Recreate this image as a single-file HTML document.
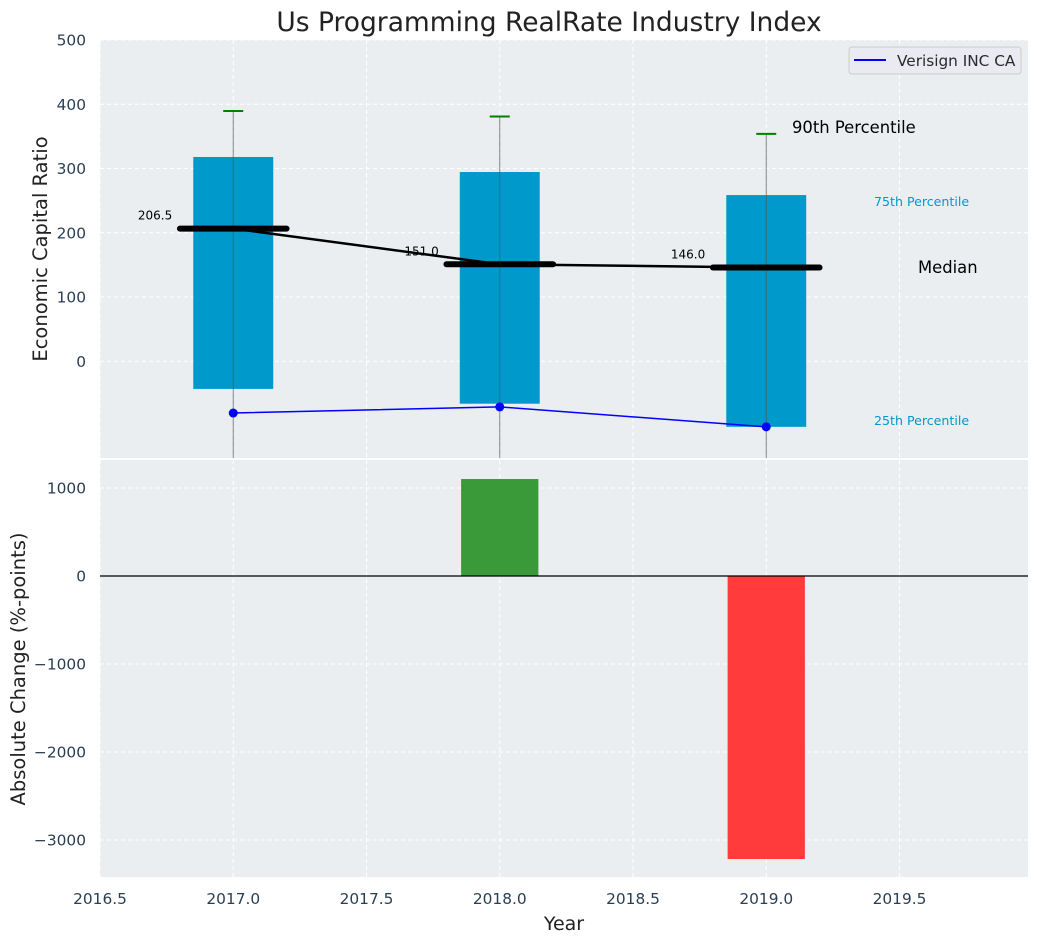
<!DOCTYPE html>
<html><head><meta charset="utf-8"><style>
body{margin:0;background:#fff;}
svg text{font-family:"DejaVu Sans","Liberation Sans",sans-serif;}
</style></head><body>
<svg id="c" width="1039" height="942" xmlns="http://www.w3.org/2000/svg"></svg>
<script>
const years=[2017,2018,2019];
const p25=[-43,-66,-102];
const p75=[318,294.6,258.7];
const p90=[389.5,381,354];
const medians=[206.5,151.0,146.0];
const company=[-80.5,-71,-102];
const changes=[0,1102,-3216];
const xTicks=[2016.5,2017.0,2017.5,2018.0,2018.5,2019.0,2019.5];
const topTicks=[0,100,200,300,400,500];
const botTicks=[1000,0,-1000,-2000,-3000];

const NS='http://www.w3.org/2000/svg';
const svg=document.getElementById('c');
function el(t,a,p){const e=document.createElementNS(NS,t);for(const k in a)e.setAttribute(k,a[k]);(p||svg).appendChild(e);return e;}
const L=100,R=1028;
const X=v=>L+(v-2016.5)*266.5;
const T0=40,T1=458,B0=460,B1=877;
const Yt=v=>361.3-v*0.6425;
const Yb=v=>576-v*0.088;

let e=el('rect',{x:L,y:T0,width:R-L,height:T1-T0,fill:'#eaeef0'});

e=el('rect',{x:L,y:B0,width:R-L,height:B1-B0,fill:'#eaeef0'});


xTicks.forEach(v=>{
 el('line',{x1:X(v),x2:X(v),y1:T0,y2:T1,stroke:'#fff','stroke-dasharray':'4,3','stroke-width':1});
 el('line',{x1:X(v),x2:X(v),y1:B0,y2:B1,stroke:'#fff','stroke-dasharray':'4,3','stroke-width':1});
 const t=el('text',{x:X(v),y:904,'text-anchor':'middle','font-size':15.4,fill:'#2a3f55'});t.textContent=v.toFixed(1);
 
});
topTicks.forEach(v=>{
 el('line',{x1:L,x2:R,y1:Yt(v),y2:Yt(v),stroke:'#fff','stroke-dasharray':'4,3'});
 const t=el('text',{x:86,y:Yt(v)+5.5,'text-anchor':'end','font-size':15.4,fill:'#2a3f55'});t.textContent=v;
 
});
botTicks.forEach(v=>{
 el('line',{x1:L,x2:R,y1:Yb(v),y2:Yb(v),stroke:'#fff','stroke-dasharray':'4,3'});
 const t=el('text',{x:86,y:Yb(v)+5.5,'text-anchor':'end','font-size':15.4,fill:'#2a3f55'});t.textContent=(v<0?'\u2212'+(-v):v);
 
});

const bw=0.15*266.5;
years.forEach((y,i)=>{
 const r=el('rect',{x:X(y)-bw,y:Yt(p75[i]),width:2*bw,height:Yt(p25[i])-Yt(p75[i]),fill:'#0099cc'});
 
 el('line',{x1:X(y),x2:X(y),y1:Yt(p90[i]),y2:T1,stroke:'#555','stroke-opacity':0.7,'stroke-width':1});
 const c=el('line',{x1:X(y)-10,x2:X(y)+10,y1:Yt(p90[i]),y2:Yt(p90[i]),stroke:'#008000','stroke-width':2});
 
});
let pts=years.map((y,i)=>X(y)+','+Yt(medians[i])).join(' ');
e=el('polyline',{points:pts,fill:'none',stroke:'#000','stroke-width':2.5});

years.forEach((y,i)=>{
 const m=el('line',{x1:X(y)-0.2*266.5,x2:X(y)+0.2*266.5,y1:Yt(medians[i]),y2:Yt(medians[i]),stroke:'#000','stroke-width':6,'stroke-linecap':'round'});
 
 const t=el('text',{x:X(y)-61,y:Yt(medians[i])-9,'text-anchor':'end','font-size':12,fill:'#000'});t.textContent=medians[i].toFixed(1);
 
});
pts=years.map((y,i)=>X(y)+','+Yt(company[i])).join(' ');
e=el('polyline',{points:pts,fill:'none',stroke:'#0000ff','stroke-width':1.5});

years.forEach((y,i)=>{
 const c=el('circle',{cx:X(y),cy:Yt(company[i]),r:4.5,fill:'#0000ff'});
 
});
[['90th Percentile',792,133,16.4,'#000'],['75th Percentile',874,206,12.6,'#0099cc'],['Median',918,273,16.4,'#000'],['25th Percentile',874,425,12.6,'#0099cc']].forEach(a=>{
 const t=el('text',{x:a[1],y:a[2],'font-size':a[3],fill:a[4]});t.textContent=a[0];
 
});
const g=el('g',{});
el('rect',{x:849,y:47,width:172,height:27,rx:3,fill:'#eaeaf2',stroke:'#ccc'},g);
el('line',{x1:854,x2:886,y1:60,y2:60,stroke:'#0000ff','stroke-width':2},g);
let t=el('text',{x:897,y:66,'font-size':15.3,fill:'#2a2a2a'},g);t.textContent='Verisign INC CA';

years.forEach((y,i)=>{
 const v=changes[i];if(v===0)return;
 const r=el('rect',{x:X(y)-0.145*266.5,y:Math.min(Yb(v),Yb(0)),width:0.29*266.5,height:Math.abs(Yb(v)-Yb(0)),fill:v>0?'#3a9a3a':'#ff3b3b'});
 
});
el('line',{x1:L,x2:R,y1:Yb(0),y2:Yb(0),stroke:'#000','stroke-width':1.2});

t=el('text',{x:549,y:31,'text-anchor':'middle','font-size':26.5,fill:'#222'});t.textContent='Us Programming RealRate Industry Index';

t=el('text',{x:564,y:930,'text-anchor':'middle','font-size':19,fill:'#222'});t.textContent='Year';

t=el('text',{x:0,y:0,'text-anchor':'middle','font-size':19.5,fill:'#222',transform:'translate(47,249) rotate(-90)'});t.textContent='Economic Capital Ratio';

t=el('text',{x:0,y:0,'text-anchor':'middle','font-size':19.5,fill:'#222',transform:'translate(25,669) rotate(-90)'});t.textContent='Absolute Change (%-points)';

</script>
</body></html>
